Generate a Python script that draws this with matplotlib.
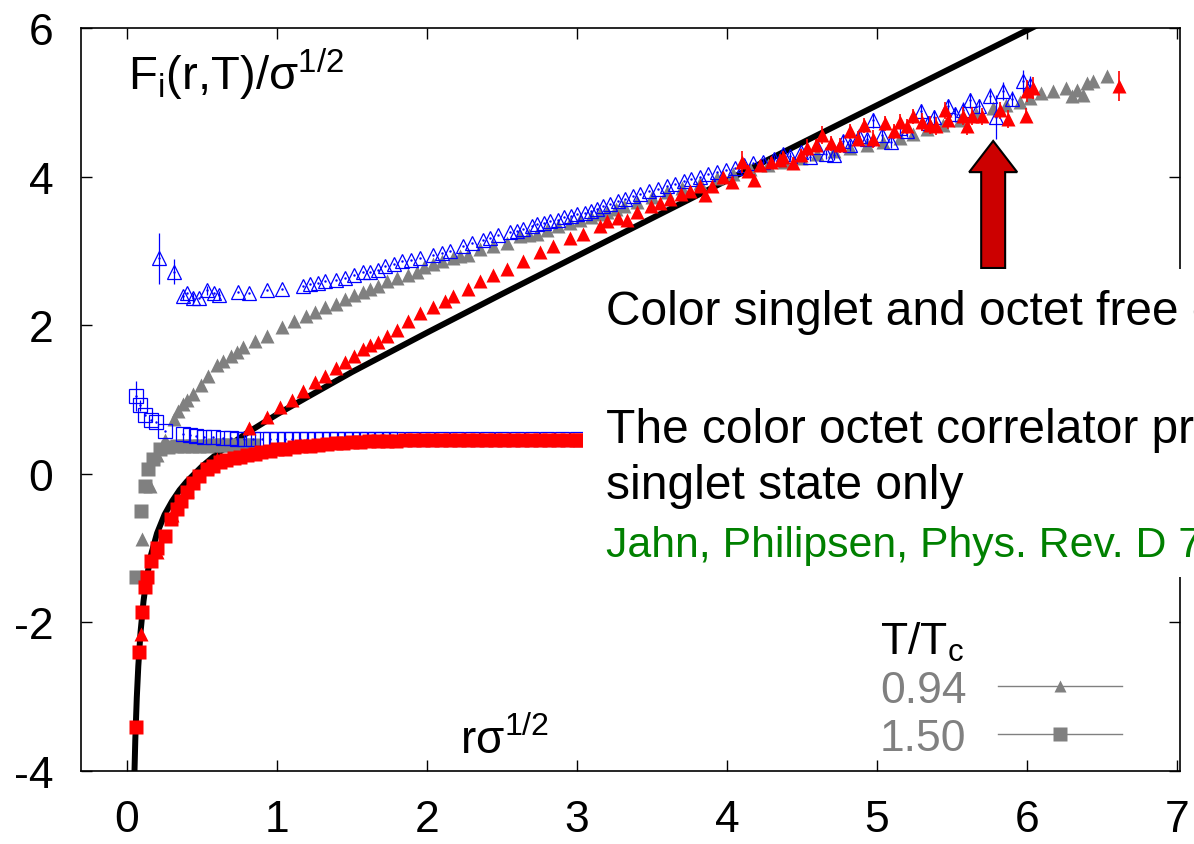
import matplotlib
matplotlib.use("Agg")
import matplotlib.pyplot as plt
from matplotlib.lines import Line2D
from matplotlib.patches import Rectangle, FancyArrow

plt.rcParams["font.family"] = ["Liberation Sans", "DejaVu Sans"]
plt.rcParams["mathtext.fontset"] = "custom"
plt.rcParams["mathtext.rm"] = "Liberation Sans"
plt.rcParams["mathtext.it"] = "Liberation Sans"
plt.rcParams["axes.unicode_minus"] = False

# black reference curve
curve_r = [0.04, 0.047, 0.055, 0.065, 0.075, 0.09, 0.11, 0.13, 0.16, 0.2, 0.25, 0.3, 0.35,
           0.4, 0.5, 0.6, 0.7, 0.8, 1.0, 1.2, 1.5, 2.0, 2.5, 3.0, 4.0, 5.0, 6.1]
curve_F = [-4.96, -4.21, -3.58, -3.01, -2.59, -2.13, -1.71, -1.41, -1.09, -0.80, -0.55, -0.37, -0.22,
           -0.10, 0.10, 0.27, 0.41, 0.55, 0.80, 1.03, 1.37, 1.90, 2.42, 2.93, 3.95, 4.96, 6.07]

# (r, F) filled red squares
red_sq = [(0.057, -3.41), (0.08, -2.40), (0.1, -1.86), (0.12, -1.52), (0.13, -1.39), (0.16, -1.17),
          (0.2, -1.0), (0.25, -0.84), (0.29, -0.61), (0.33, -0.48), (0.36, -0.37), (0.4, -0.24),
          (0.44, -0.12), (0.48, -0.03), (0.53, 0.06), (0.57, 0.11), (0.62, 0.16), (0.66, 0.18),
          (0.71, 0.21), (0.75, 0.23), (0.8, 0.25), (0.85, 0.27), (0.89, 0.29), (0.95, 0.31),
          (1.0, 0.33), (1.05, 0.34), (1.11, 0.36), (1.16, 0.37), (1.22, 0.38), (1.27, 0.39),
          (1.33, 0.40), (1.39, 0.41), (1.44, 0.42), (1.5, 0.43), (1.55, 0.43), (1.61, 0.44),
          (1.67, 0.44), (1.73, 0.44), (1.79, 0.44), (1.85, 0.45), (1.91, 0.45), (1.97, 0.45),
          (2.03, 0.45), (2.09, 0.45), (2.15, 0.45), (2.21, 0.45), (2.27, 0.45), (2.33, 0.45),
          (2.39, 0.45), (2.45, 0.45), (2.51, 0.45), (2.57, 0.45), (2.63, 0.45), (2.69, 0.45),
          (2.75, 0.45), (2.81, 0.45), (2.87, 0.45), (2.93, 0.45), (2.99, 0.45), (3.02, 0.45)]

# (r, F, err) open blue squares
blue_sq = [(0.06, 1.05, 0.2), (0.087, 0.92, 0.08), (0.12, 0.79, 0), (0.16, 0.72, 0), (0.19, 0.70, 0),
           (0.25, 0.58, 0), (0.37, 0.54, 0), (0.42, 0.52, 0), (0.46, 0.51, 0), (0.51, 0.50, 0),
           (0.57, 0.49, 0), (0.64, 0.48, 0), (0.69, 0.48, 0), (0.73, 0.47, 0), (0.78, 0.47, 0),
           (0.84, 0.47, 0), (0.9, 0.47, 0), (0.95, 0.47, 0), (1.0, 0.47, 0), (1.05, 0.47, 0),
           (1.1, 0.47, 0), (1.15, 0.47, 0), (1.2, 0.47, 0), (1.25, 0.47, 0), (1.3, 0.47, 0),
           (1.35, 0.47, 0), (1.4, 0.47, 0), (1.45, 0.47, 0), (1.5, 0.47, 0), (1.55, 0.47, 0),
           (1.6, 0.47, 0), (1.65, 0.47, 0), (1.7, 0.47, 0), (1.75, 0.47, 0), (1.8, 0.47, 0),
           (1.9, 0.47, 0), (2.0, 0.47, 0), (2.1, 0.47, 0), (2.2, 0.47, 0), (2.3, 0.47, 0),
           (2.4, 0.47, 0), (2.5, 0.47, 0), (2.6, 0.47, 0), (2.7, 0.47, 0), (2.8, 0.47, 0),
           (2.9, 0.47, 0), (3.0, 0.47, 0)]

# (r, F) filled grey squares
gray_sq = [(0.06, -1.39), (0.09, -0.5), (0.12, -0.16), (0.14, 0.07), (0.17, 0.2), (0.22, 0.34),
           (0.27, 0.36), (0.33, 0.37), (0.38, 0.38), (0.43, 0.38), (0.48, 0.38), (0.53, 0.38),
           (0.58, 0.39), (0.63, 0.39), (0.68, 0.39), (0.73, 0.39), (0.78, 0.39), (0.84, 0.39)]

# (r, F) filled grey triangles
gray_tri = [(0.1, -0.88), (0.15, -0.16), (0.2, 0.25), (0.25, 0.45), (0.31, 0.74), (0.34, 0.84),
            (0.37, 0.94), (0.4, 1.0), (0.44, 1.08), (0.49, 1.19), (0.54, 1.32), (0.6, 1.46),
            (0.64, 1.52), (0.69, 1.58), (0.73, 1.64), (0.77, 1.71), (0.85, 1.79), (0.93, 1.86),
            (1.03, 1.98), (1.11, 2.05), (1.19, 2.12), (1.25, 2.18), (1.32, 2.24), (1.39, 2.29),
            (1.45, 2.35), (1.51, 2.4), (1.57, 2.45), (1.62, 2.49), (1.67, 2.53), (1.73, 2.59),
            (1.8, 2.63), (1.87, 2.68), (1.93, 2.72), (1.98, 2.78), (2.04, 2.83), (2.1, 2.87),
            (2.17, 2.9), (2.22, 2.93), (2.27, 2.95), (2.35, 3.03), (2.44, 3.07), (2.53, 3.1),
            (2.62, 3.2), (2.68, 3.21), (2.73, 3.23), (2.8, 3.28), (2.87, 3.33), (2.95, 3.38),
            (3.02, 3.42), (3.09, 3.46), (3.15, 3.5), (3.2, 3.53), (3.26, 3.57), (3.31, 3.6),
            (3.4, 3.66), (3.5, 3.72), (3.6, 3.79), (3.7, 3.84), (3.82, 3.92), (3.93, 3.98),
            (4.04, 4.03), (4.15, 4.1), (4.27, 4.15), (4.38, 4.2), (4.49, 4.25), (4.6, 4.3),
            (4.71, 4.35), (4.82, 4.39), (4.93, 4.42), (5.04, 4.47), (5.15, 4.52), (5.24, 4.58),
            (5.33, 4.64), (5.44, 4.7), (5.55, 4.76), (5.66, 4.84), (5.77, 4.92), (5.86, 4.97),
            (5.95, 5.01), (6.02, 5.06), (6.09, 5.12), (6.17, 5.15), (6.26, 5.19), (6.3, 5.09),
            (6.33, 5.16), (6.37, 5.1), (6.4, 5.26), (6.44, 5.28), (6.53, 5.36)]

# (r, F, err) open blue triangles
blue_tri = [(0.21, 2.9, 0.34), (0.31, 2.72, 0.17), (0.37, 2.39, 0.05), (0.4, 2.43, 0),
            (0.44, 2.37, 0.07), (0.48, 2.36, 0), (0.53, 2.47, 0.06), (0.58, 2.43, 0),
            (0.61, 2.4, 0.06), (0.74, 2.45, 0), (0.81, 2.43, 0), (0.93, 2.47, 0), (1.03, 2.49, 0),
            (1.17, 2.53, 0), (1.22, 2.55, 0), (1.27, 2.57, 0), (1.32, 2.59, 0), (1.39, 2.61, 0),
            (1.45, 2.64, 0), (1.51, 2.67, 0), (1.57, 2.71, 0), (1.62, 2.72, 0), (1.67, 2.74, 0),
            (1.72, 2.8, 0), (1.78, 2.82, 0), (1.83, 2.86, 0), (1.89, 2.88, 0), (1.95, 2.91, 0),
            (2.04, 2.95, 0), (2.1, 2.97, 0), (2.15, 3.0, 0), (2.24, 3.07, 0), (2.3, 3.1, 0),
            (2.37, 3.15, 0), (2.42, 3.18, 0), (2.47, 3.22, 0), (2.55, 3.26, 0), (2.6, 3.27, 0),
            (2.64, 3.3, 0), (2.7, 3.33, 0), (2.73, 3.36, 0), (2.78, 3.37, 0), (2.82, 3.4, 0),
            (2.87, 3.42, 0), (2.91, 3.46, 0), (2.96, 3.47, 0), (3.0, 3.5, 0), (3.05, 3.51, 0),
            (3.09, 3.54, 0), (3.13, 3.57, 0), (3.17, 3.61, 0), (3.22, 3.63, 0), (3.27, 3.67, 0),
            (3.32, 3.7, 0), (3.37, 3.74, 0), (3.42, 3.76, 0), (3.48, 3.8, 0), (3.54, 3.83, 0),
            (3.6, 3.87, 0), (3.65, 3.9, 0), (3.71, 3.94, 0), (3.76, 3.97, 0), (3.82, 4.0, 0),
            (3.87, 4.03, 0), (3.93, 4.06, 0), (3.99, 4.09, 0), (4.05, 4.12, 0), (4.11, 4.15, 0),
            (4.17, 4.18, 0), (4.24, 4.2, 0.05), (4.31, 4.24, 0.05), (4.37, 4.3, 0.06),
            (4.42, 4.28, 0.05), (4.49, 4.33, 0.06), (4.55, 4.27, 0.06), (4.6, 4.4, 0.06),
            (4.66, 4.3, 0.06), (4.71, 4.29, 0.06), (4.77, 4.48, 0.08), (4.82, 4.42, 0.07),
            (4.88, 4.55, 0.08), (4.93, 4.5, 0.08), (4.97, 4.76, 0.1), (5.03, 4.56, 0.08),
            (5.09, 4.47, 0.08), (5.15, 4.66, 0.09), (5.2, 4.62, 0.09), (5.29, 4.88, 0.1),
            (5.34, 4.72, 0.09), (5.38, 4.8, 0.1), (5.47, 4.95, 0.1), (5.52, 4.84, 0.1),
            (5.57, 4.9, 0.1), (5.62, 5.03, 0.1), (5.68, 4.95, 0.1), (5.75, 5.09, 0.1),
            (5.79, 4.8, 0.3), (5.84, 5.15, 0.12), (5.9, 5.05, 0.1), (5.97, 5.28, 0.15),
            (6.02, 5.23, 0.12)]

# (r, F, err) filled red triangles
red_tri = [(0.095, -2.16, 0), (0.2, -1.05, 0), (0.3, -0.55, 0), (0.4, -0.22, 0), (0.53, 0.09, 0),
           (0.6, 0.2, 0), (0.81, 0.61, 0), (0.93, 0.77, 0), (1.02, 0.9, 0), (1.1, 1.0, 0),
           (1.17, 1.12, 0), (1.25, 1.24, 0), (1.32, 1.32, 0), (1.39, 1.42, 0), (1.45, 1.5, 0),
           (1.51, 1.58, 0), (1.57, 1.68, 0), (1.62, 1.73, 0), (1.67, 1.78, 0), (1.73, 1.85, 0),
           (1.8, 1.93, 0), (1.87, 2.05, 0), (1.95, 2.16, 0), (2.04, 2.25, 0), (2.12, 2.32, 0),
           (2.17, 2.39, 0), (2.27, 2.49, 0), (2.35, 2.59, 0), (2.44, 2.67, 0), (2.53, 2.76, 0),
           (2.64, 2.87, 0), (2.75, 2.99, 0), (2.84, 3.06, 0), (2.95, 3.17, 0), (3.04, 3.23, 0),
           (3.15, 3.34, 0), (3.2, 3.4, 0), (3.27, 3.44, 0), (3.33, 3.41, 0), (3.4, 3.53, 0),
           (3.49, 3.6, 0), (3.55, 3.65, 0), (3.62, 3.7, 0), (3.69, 3.77, 0), (3.75, 3.8, 0),
           (3.82, 3.87, 0.05), (3.85, 3.75, 0.05), (3.9, 3.88, 0.05), (3.97, 4.0, 0.06),
           (4.03, 3.93, 0.06), (4.1, 4.2, 0.15), (4.14, 4.08, 0.07), (4.18, 3.95, 0.08),
           (4.22, 4.15, 0.07), (4.29, 4.2, 0.07), (4.35, 4.22, 0.08), (4.37, 4.27, 0.08),
           (4.44, 4.18, 0.08), (4.49, 4.29, 0.08), (4.53, 4.38, 0.12), (4.59, 4.42, 0.09),
           (4.63, 4.56, 0.12), (4.69, 4.45, 0.1), (4.75, 4.42, 0.1), (4.82, 4.61, 0.1),
           (4.87, 4.51, 0.1), (4.91, 4.69, 0.1), (4.97, 4.51, 0.12), (5.05, 4.72, 0.1),
           (5.11, 4.61, 0.1), (5.15, 4.74, 0.1), (5.2, 4.68, 0.1), (5.24, 4.81, 0.1),
           (5.3, 4.74, 0.12), (5.35, 4.69, 0.12), (5.39, 4.68, 0.12), (5.45, 4.89, 0.12),
           (5.47, 4.76, 0.12), (5.57, 4.82, 0.12), (5.6, 4.68, 0.12), (5.63, 4.82, 0.12),
           (5.7, 4.81, 0.12), (5.82, 4.89, 0.12), (5.87, 4.78, 0.12), (5.99, 4.82, 0.1),
           (6.0, 5.15, 0.15), (6.04, 5.19, 0.15), (6.61, 5.22, 0.2)]

legend_labels = ["0.94", "1.50"]

GRAY = "#808080"
RED = "#ff0000"
BLUE = "#0000ff"


def cols(rows):
    return [list(c) for c in zip(*rows)]


def main():
    fig = plt.figure(figsize=(11.94, 8.45), dpi=100)
    ax = fig.add_axes([81 / 1194, 73 / 845, 1099 / 1194, 743 / 845])

    ax.plot(curve_r, curve_F, color="black", lw=4.3, zorder=2, solid_capstyle="butt")

    r, F = cols(gray_sq)
    ax.plot(r, F, ls="none", marker="s", ms=9.6, color=GRAY, mec="none", zorder=3)
    r, F = cols(gray_tri)
    ax.plot(r, F, ls="none", marker="^", ms=10.5, color=GRAY, mec="none", zorder=3)

    r, F, e = cols(blue_sq)
    ax.errorbar(r, F, yerr=e, fmt="s", ms=9.6, mfc="none", mec=BLUE, mew=0.9,
                ecolor=BLUE, elinewidth=0.9, capsize=0, zorder=4)
    ax.plot(r, F, ls="none", marker=".", ms=1.5, color=BLUE, zorder=4)

    r, F = cols(red_sq)
    ax.plot(r, F, ls="none", marker="s", ms=9.6, color=RED, mec="none", zorder=5)

    r, F, e = cols(blue_tri)
    ax.errorbar(r, F, yerr=e, fmt="^", ms=10.5, mfc="none", mec=BLUE, mew=0.9,
                ecolor=BLUE, elinewidth=0.9, capsize=0, zorder=5)
    ax.plot(r, F, ls="none", marker=".", ms=1.5, color=BLUE, zorder=5)

    r, F, e = cols(red_tri)
    ax.errorbar(r, F, yerr=e, fmt="^", ms=10.5, color=RED, mec="none",
                ecolor=RED, elinewidth=1.2, capsize=0, zorder=6)

    ax.set_xlim(-0.307, 7.02)
    ax.set_ylim(-4, 6)
    ax.set_xticks(range(0, 8))
    ax.set_yticks(range(-4, 7, 2))
    ax.tick_params(direction="in", length=8, width=1, top=True, right=True,
                   labelsize=32, pad=20)
    for s in ax.spines.values():
        s.set_linewidth(1.2)

    ax.text(0.0428, 0.918, r"$\mathregular{F_i(r{,}T)/σ^{1/2}}$", transform=ax.transAxes,
            fontsize=34, va="baseline", ha="left")
    ax.text(0.345, 0.024, r"$\mathregular{rσ^{1/2}}$", transform=ax.transAxes,
            fontsize=33, va="baseline", ha="left")

    handles = [Line2D([], [], color=GRAY, lw=1, marker="^", ms=9, mec="none"),
               Line2D([], [], color=GRAY, lw=1, marker="s", ms=9.4, mec="none")]
    ax.legend(handles, legend_labels, title=r"T/T$_\mathregular{c}$", loc="upper left",
              bbox_to_anchor=(0.727, 0.204), frameon=False, markerfirst=False,
              fontsize=32, title_fontsize=32, handlelength=2.8, handletextpad=0.7,
              labelspacing=0.16, borderpad=0, borderaxespad=0, alignment="left",
              labelcolor=GRAY)

    # white panel holding the slide text
    fig.add_artist(Rectangle((583 / 1194, (845 - 578) / 845), 1, (578 - 270) / 845,
                             transform=fig.transFigure, fc="white", ec="none", zorder=10))
    ax.add_patch(FancyArrow(0.830, 0.677, 0, 0.171, width=0.0218, head_width=0.0437,
                            head_length=0.042, length_includes_head=True, fc="#cc0000",
                            ec="black", lw=1.5, transform=ax.transAxes, clip_on=False,
                            zorder=20))

    tx = 606 / 1194
    fig.text(tx, (845 - 325) / 845, "Color singlet and octet free energies",
             fontsize=34.5, va="baseline", zorder=11)
    fig.text(tx, (845 - 443) / 845, "The color octet correlator projects onto the",
             fontsize=34.5, va="baseline", zorder=11)
    fig.text(tx, (845 - 499) / 845, "singlet state only",
             fontsize=34.5, va="baseline", zorder=11)
    fig.text(tx, (845 - 557) / 845, "Jahn, Philipsen, Phys. Rev. D 70, 074504 (2004)",
             fontsize=30.8, va="baseline", color="#008000", zorder=11)

    fig.savefig("out.png", dpi=100)


if __name__ == "__main__":
    main()
